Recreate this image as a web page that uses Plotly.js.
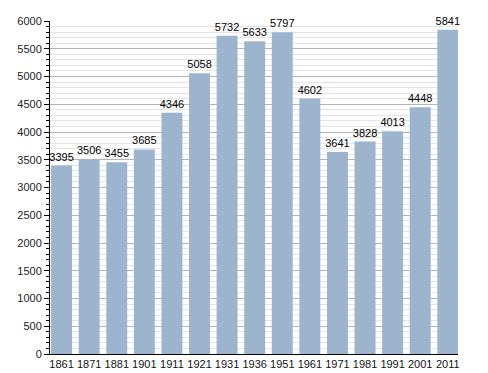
<!DOCTYPE html>
<html><head><meta charset="utf-8">
<script src="https://cdn.plot.ly/plotly-3.0.1.min.js"></script>
<style>html,body{margin:0;padding:0;background:#fff}</style>
</head><body>
<div id="chart" style="width:488px;height:373px"></div>
<script>
var years = ["1861","1871","1881","1901","1911","1921","1931","1936","1951","1961","1971","1981","1991","2001","2011"];
var population = [3395,3506,3455,3685,4346,5058,5732,5633,5797,4602,3641,3828,4013,4448,5841];

var trace = {
  type: 'bar',
  x: years,
  y: population,
  text: population.map(String),
  textposition: 'outside',
  constraintext: 'none',
  cliponaxis: false,
  textfont: {family: 'Liberation Sans, Arial, sans-serif', size: 11, color: '#000'},
  marker: {color: 'rgb(156,180,206)', line: {width: 0}},
  width: 0.76,
  hoverinfo: 'none'
};

var layout = {
  width: 488, height: 373,
  margin: {l: 50, r: 30, t: 21, b: 19, pad: 0},
  paper_bgcolor: '#fff', plot_bgcolor: '#fff',
  showlegend: false,
  font: {family: 'Liberation Sans, Arial, sans-serif', size: 11, color: '#222'},
  xaxis: {
    type: 'category',
    range: [-0.42, 14.37],
    showline: true, linecolor: '#000', linewidth: 1,
    ticks: '', showgrid: false, zeroline: false,
    tickfont: {size: 11, color: '#111'}
  },
  yaxis: {
    range: [0, 6000],
    dtick: 500,
    showline: true, linecolor: '#000', linewidth: 1,
    ticks: 'outside', ticklen: 5, tickcolor: '#000',
    showgrid: true, gridcolor: '#b4b4b4', gridwidth: 1,
    zeroline: false,
    tickfont: {size: 11, color: '#222'},
    minor: {dtick: 100, showgrid: true, gridcolor: '#e4e4e4', ticks: 'outside', ticklen: 3, tickcolor: '#000'}
  }
};

Plotly.newPlot('chart', [trace], layout, {staticPlot: true, displayModeBar: false});
</script>
</body></html>
